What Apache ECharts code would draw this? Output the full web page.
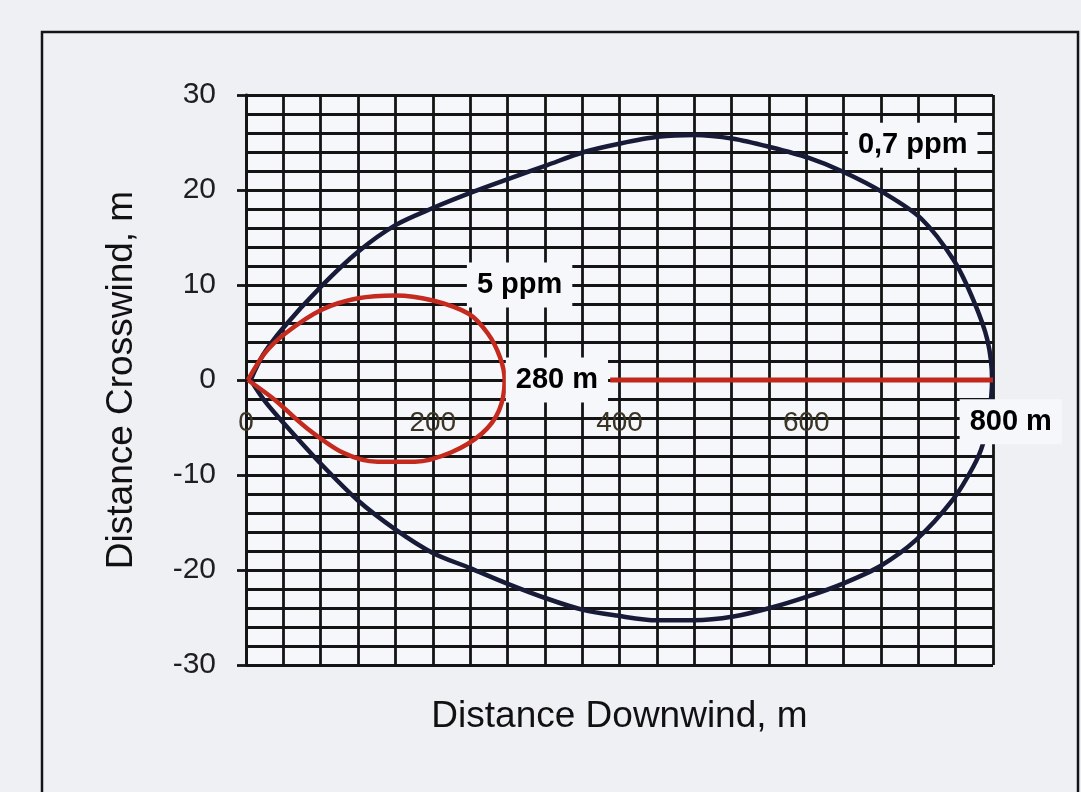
<!DOCTYPE html>
<html>
<head>
<meta charset="utf-8">
<title>Distance Downwind / Crosswind</title>
<script src="https://cdn.jsdelivr.net/npm/echarts@6/dist/echarts.min.js"></script>
<style>
  html, body { margin: 0; padding: 0; background: #eef0f4; }
  #chart { width: 1081px; height: 792px; }
</style>
</head>
<body>
<div id="chart"></div>
<script>
// 0,7 ppm contour (black), top arc left->right then bottom arc right->left
const contour07 = [
  [5, 0], [18, 2.6], [40, 5.5], [80, 9.8], [120, 13.5], [160, 16.3], [200, 18.1],
  [243, 19.8], [282, 21.2], [322, 22.6], [362, 24], [401, 24.9], [441, 25.6],
  [480, 25.8], [522, 25.4], [562, 24.5], [602, 23.4], [640, 21.9], [683, 19.7],
  [723, 17], [758, 12.6], [779, 8.4], [794, 4.2], [799, 0],
  [796, -3.5], [789, -6.8], [779, -9.1], [757, -12.6], [718, -16.8], [679, -19.6],
  [640, -21.4], [601, -22.8], [561, -24], [522, -24.9], [480, -25.3], [440, -25.3],
  [397, -24.8], [361, -24.2], [322, -23], [279, -21.4], [240, -19.8], [200, -18.2],
  [161, -15.8], [119, -12.6], [79, -8.7], [40, -4.5], [20, -2.2], [5, 0]
];

// 5 ppm contour (red)
const contour5 = [
  [2, 0], [20, 2.8], [42, 4.9], [81, 7.4], [120, 8.6], [160, 8.9], [199, 8.4],
  [238, 7], [259, 4.9], [272, 2.4], [277, 0], [271, -3.2], [253, -5.6], [220, -7.6],
  [181, -8.6], [141, -8.6], [103, -7.6], [63, -4.9], [31, -2.1], [2, 0]
];

// red marker along the axis
const marker280 = [[390, 0], [800, 0]];

// x tick labels shown on the zero line
const xTickLabels = ['0', '200', '400', '600'];

// annotations
const noteTexts = ['0,7 ppm', '5 ppm', '280 m', '800 m'];
const noteAt = [[714, 24.7], [293, 10], [333, 0], [819, -4.4]];

const PLOT_BG = '#f6f7fa';
const GRID_LINE = { color: '#141414', width: 2.8 };
const FONT = 'Liberation Sans, Arial, sans-serif';

var myChart = echarts.init(document.getElementById('chart'));

var option = {
  backgroundColor: '#eef0f4',
  animation: false,
  graphic: [{
    type: 'rect',
    shape: { x: 42, y: 32, width: 1036, height: 800 },
    style: { fill: null, stroke: '#151515', lineWidth: 2.5 },
    z: -1
  }],
  grid: {
    left: 246, right: 88, top: 95, bottom: 127,
    outerBoundsMode: 'none',
    containLabel: false,
    show: true, backgroundColor: PLOT_BG, borderWidth: 0
  },
  xAxis: {
    type: 'value',
    min: 0, max: 800, interval: 200,
    // x axis drawn along the zero line (285px above the bottom edge)
    offset: -285,
    name: 'Distance Downwind, m',
    nameLocation: 'middle',
    nameGap: 318,
    nameTextStyle: { fontFamily: FONT, fontSize: 37, color: '#111' },
    axisLine: { show: false, onZero: false },
    axisTick: { show: false },
    axisLabel: {
      margin: 29,
      fontFamily: FONT,
      fontSize: 28,
      color: '#3c3526',
      formatter: function (v) {
        var i = v / 200;
        return xTickLabels[i] !== undefined ? xTickLabels[i] : '';
      }
    },
    splitLine: { show: true, lineStyle: GRID_LINE },
    minorTick: { show: false, splitNumber: 5 },
    minorSplitLine: { show: true, lineStyle: GRID_LINE }
  },
  yAxis: {
    type: 'value',
    min: -30, max: 30, interval: 10,
    name: 'Distance Crosswind, m',
    nameLocation: 'middle',
    nameRotate: 90,
    nameGap: 106,
    nameTextStyle: { fontFamily: FONT, fontSize: 37, color: '#111' },
    axisLine: { show: true, onZero: false, lineStyle: GRID_LINE },
    axisTick: { show: true, length: 9, lineStyle: GRID_LINE },
    axisLabel: {
      margin: 30,
      fontFamily: FONT,
      fontSize: 30,
      color: '#1e1e1e'
    },
    splitLine: { show: true, lineStyle: GRID_LINE },
    minorTick: { show: false, splitNumber: 5 },
    minorSplitLine: { show: true, lineStyle: GRID_LINE }
  },
  series: [
    {
      name: '0,7 ppm',
      type: 'line',
      data: contour07,
      symbol: 'none',
      smooth: 0.3,
      z: 3,
      lineStyle: { color: '#181b38', width: 4.5 }
    },
    {
      name: '5 ppm',
      type: 'line',
      data: contour5,
      symbol: 'none',
      smooth: 0.3,
      z: 4,
      lineStyle: { color: '#c42a1d', width: 4.5 }
    },
    {
      name: '280 m',
      type: 'line',
      data: marker280,
      symbol: 'none',
      z: 4,
      lineStyle: { color: '#c1281b', width: 5 }
    },
    {
      name: 'notes',
      type: 'scatter',
      symbolSize: 1,
      itemStyle: { color: 'rgba(0,0,0,0)' },
      clip: false,
      z: 10,
      data: noteAt.map(function (p, i) { return { name: noteTexts[i], value: p }; }),
      label: {
        show: true,
        position: 'inside',
        formatter: '{b}',
        fontFamily: FONT,
        fontWeight: 'bold',
        fontSize: 29,
        color: '#000',
        opacity: 1,
        textBorderWidth: 0,
        backgroundColor: PLOT_BG,
        padding: [8, 10]
      }
    }
  ]
};

myChart.setOption(option);
</script>
</body>
</html>
